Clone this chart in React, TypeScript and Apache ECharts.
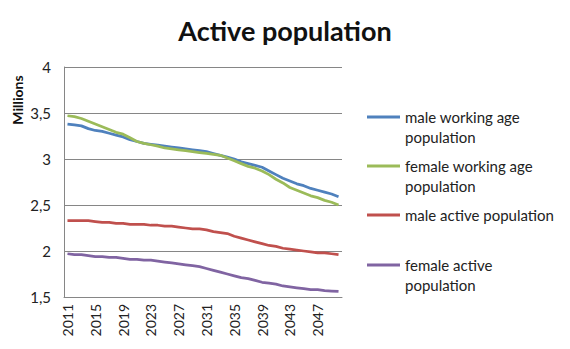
import React, { useEffect, useRef } from "react";
import * as echarts from "echarts";

const years: string[] = [];
for (let y = 2011; y <= 2050; y++) years.push(String(y));

const maleWorkingAge = [
  3.38, 3.37, 3.36, 3.33, 3.31, 3.3, 3.28, 3.26, 3.24, 3.21,
  3.19, 3.17, 3.16, 3.15, 3.14, 3.13, 3.12, 3.11, 3.1, 3.09,
  3.08, 3.06, 3.04, 3.02, 3.0, 2.97, 2.95, 2.93, 2.91, 2.87,
  2.83, 2.79, 2.76, 2.73, 2.71, 2.68, 2.66, 2.64, 2.62, 2.59,
];
const femaleWorkingAge = [
  3.47, 3.46, 3.44, 3.41, 3.38, 3.35, 3.32, 3.29, 3.27, 3.23,
  3.19, 3.17, 3.155, 3.14, 3.12, 3.11, 3.1, 3.09, 3.08, 3.07,
  3.06, 3.05, 3.04, 3.01, 2.98, 2.95, 2.92, 2.9, 2.87, 2.83,
  2.78, 2.74, 2.69, 2.66, 2.63, 2.6, 2.58, 2.55, 2.53, 2.5,
];
const maleActive = [
  2.33, 2.33, 2.33, 2.33, 2.32, 2.31, 2.31, 2.3, 2.3, 2.29,
  2.29, 2.29, 2.28, 2.28, 2.27, 2.27, 2.26, 2.25, 2.24, 2.24,
  2.23, 2.21, 2.2, 2.19, 2.16, 2.14, 2.12, 2.1, 2.08, 2.06,
  2.05, 2.03, 2.02, 2.01, 2.0, 1.99, 1.98, 1.98, 1.97, 1.96,
];
const femaleActive = [
  1.97, 1.96, 1.96, 1.95, 1.94, 1.94, 1.93, 1.93, 1.92, 1.91,
  1.91, 1.9, 1.9, 1.89, 1.88, 1.87, 1.86, 1.85, 1.84, 1.83,
  1.81, 1.79, 1.77, 1.75, 1.73, 1.71, 1.7, 1.68, 1.66, 1.65,
  1.64, 1.62, 1.61, 1.6, 1.59, 1.58, 1.58, 1.57, 1.565, 1.56,
];

const seriesNames = [
  "male working age\npopulation",
  "female working age\npopulation",
  "male active population",
  "female active\npopulation",
];
const seriesColors = ["#4F81BD", "#9BBB59", "#C0504D", "#8064A2"];
const seriesData = [maleWorkingAge, femaleWorkingAge, maleActive, femaleActive];

const FONT = "Lato, 'Noto Sans', sans-serif";
const LINE_H = 20;
const legendLineY = [117, 166, 215, 265];

export default function App() {
  const ref = useRef<HTMLDivElement>(null);

  useEffect(() => {
    if (!ref.current) return;
    const chart = echarts.init(ref.current, undefined, { renderer: "svg" });

    // One legend per series so each entry sits at its own height; two-line
    // names get a blank leading line so the swatch lines up with the first line.
    const legends = seriesNames.map((name, i) => {
      const lines = name.split("\n").length;
      return {
        left: 367,
        top: legendLineY[i] - (lines === 2 ? 1.5 * LINE_H : 0.5 * LINE_H),
        padding: 0,
        orient: "vertical",
        icon: "rect",
        itemWidth: 33,
        itemHeight: 3,
        data: [name],
        selectedMode: false,
        formatter: (n: string) => (n.indexOf("\n") >= 0 ? "\u00a0\n" + n : n),
        textStyle: {
          fontFamily: FONT,
          fontSize: 15,
          color: "#222",
          lineHeight: LINE_H,
        },
      };
    });

    chart.setOption({
      animation: false,
      backgroundColor: "#fff",
      title: {
        text: "Active population",
        left: "center",
        top: 12,
        textStyle: {
          fontFamily: FONT,
          fontSize: 27,
          fontWeight: "bold",
          color: "#111",
        },
      },
      legend: legends,
      graphic: [
        {
          type: "text",
          x: 17,
          y: 100,
          rotation: Math.PI / 2,
          style: {
            text: "Millions",
            fontFamily: FONT,
            fontSize: 14,
            fontWeight: "bold",
            fill: "#111",
            align: "center",
            verticalAlign: "middle",
          },
        },
      ],
      grid: { left: 64, right: 228, top: 67, bottom: 52 },
      xAxis: {
        type: "category",
        data: years,
        boundaryGap: true,
        axisLine: { show: true, lineStyle: { color: "#868686", width: 1 } },
        axisTick: { show: false },
        axisLabel: {
          interval: 3,
          rotate: 90,
          margin: 7,
          fontFamily: FONT,
          fontSize: 14,
          color: "#222",
        },
      },
      yAxis: {
        type: "value",
        min: 1.5,
        max: 4,
        interval: 0.5,
        axisLine: { show: true, lineStyle: { color: "#868686", width: 1 } },
        axisTick: { show: false },
        splitLine: { lineStyle: { color: "#868686", width: 1 } },
        axisLabel: {
          margin: 13,
          fontFamily: FONT,
          fontSize: 15,
          color: "#222",
          formatter: (v: number) => String(v).replace(".", ","),
        },
      },
      series: seriesNames.map((name, i) => ({
        name,
        type: "line",
        data: seriesData[i],
        showSymbol: false,
        symbol: "none",
        color: seriesColors[i],
        lineStyle: { width: 2.75, color: seriesColors[i] },
      })),
    });

    return () => chart.dispose();
  }, []);

  return <div ref={ref} style={{ width: 570, height: 349, margin: -8 }} />;
}
